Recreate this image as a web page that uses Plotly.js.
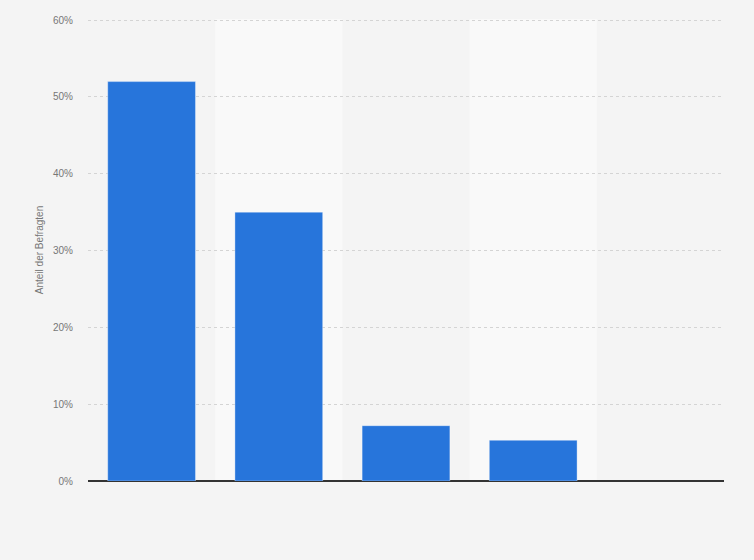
<!DOCTYPE html>
<html>
<head>
<meta charset="utf-8">
<script src="https://cdn.plot.ly/plotly-3.0.1.min.js"></script>
<style>
  html, body { margin: 0; padding: 0; background: #f4f4f4; }
  #chart { width: 754px; height: 560px; }
</style>
</head>
<body>
<div id="chart"></div>
<script>
// categories have no visible labels in the source chart
const categories = ['Kategorie 1', 'Kategorie 2', 'Kategorie 3', 'Kategorie 4', 'Kategorie 5'];
const shares = [52, 35, 7.2, 5.3, null];
const yTicks = [0, 10, 20, 30, 40, 50, 60];
const yTickLabels = yTicks.map(v => v + '%');

// lighter band behind every second category
const bands = categories
  .map((c, i) => i)
  .filter(i => i % 2 === 1)
  .map(i => ({
    type: 'rect',
    xref: 'x', yref: 'paper',
    x0: i - 0.5, x1: i + 0.5, y0: 0, y1: 1,
    fillcolor: '#f9f9f9',
    line: { width: 0 },
    layer: 'below'
  }));

const traces = [{
  type: 'bar',
  x: categories,
  y: shares,
  marker: { color: '#2775db', line: { color: 'rgba(255,255,255,0.35)', width: 1 } },
  width: 0.69,
  hoverinfo: 'x+y'
}];

const layout = {
  width: 754,
  height: 560,
  paper_bgcolor: '#f4f4f4',
  plot_bgcolor: '#f4f4f4',
  margin: { l: 88, r: 30, t: 19, b: 79 },
  showlegend: false,
  shapes: bands,
  font: { family: 'Liberation Sans, Arial, sans-serif', color: '#777' },
  xaxis: {
    showticklabels: false,
    showgrid: false,
    zeroline: false,
    ticks: '',
    range: [-0.5, categories.length - 0.5]
  },
  yaxis: {
    range: [0, 60.15],
    tickvals: yTicks,
    ticktext: yTickLabels,
    tickfont: { size: 10, color: '#777' },
    ticks: '',
    ticklabelstandoff: 14,
    gridcolor: '#d4d4d4',
    griddash: 'dot',
    gridwidth: 1,
    zeroline: true,
    zerolinecolor: '#333',
    zerolinewidth: 1.5,
    title: { text: 'Anteil der Befragten', font: { size: 10, color: '#777' }, standoff: 7 }
  }
};

Plotly.newPlot('chart', traces, layout, { displayModeBar: false, staticPlot: true });
</script>
</body>
</html>
